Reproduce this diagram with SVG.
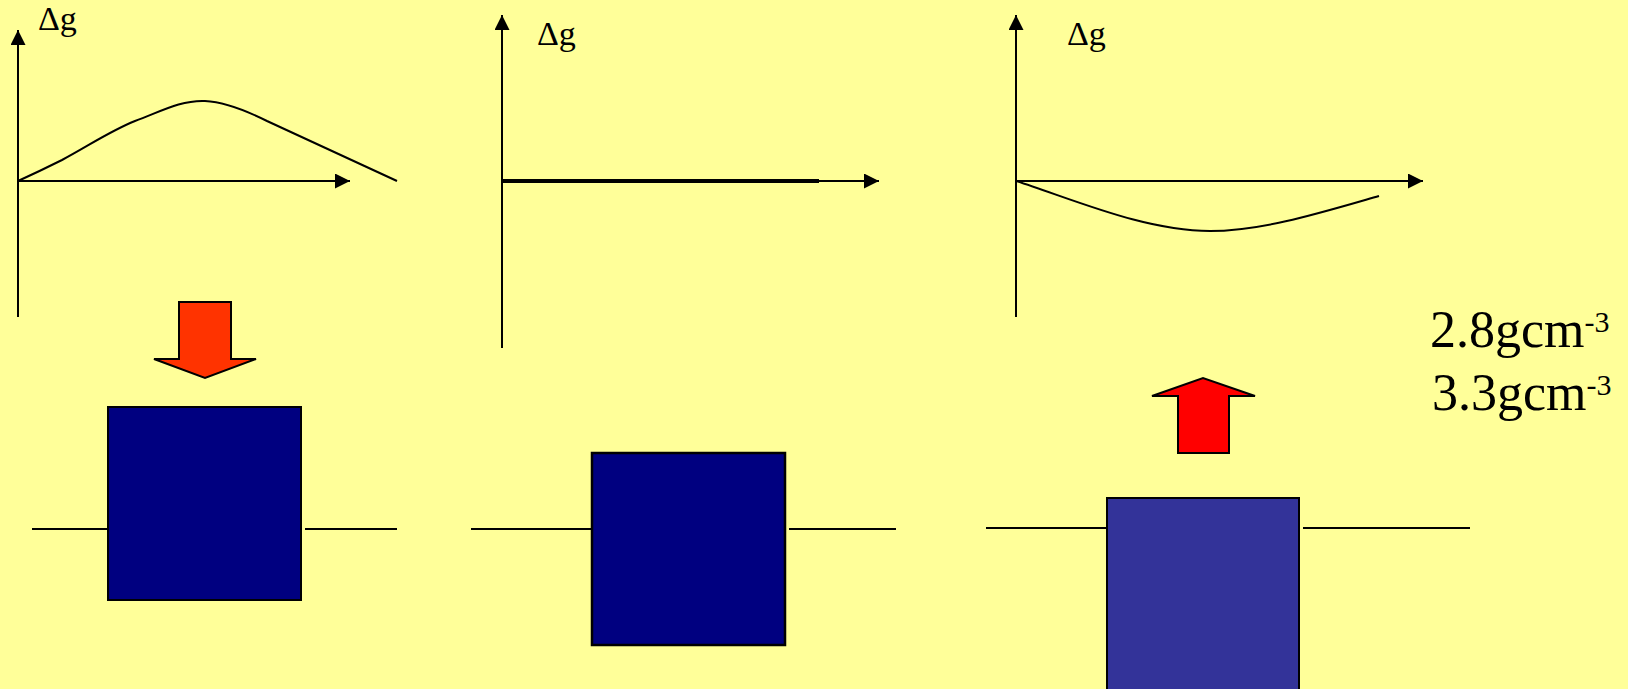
<svg xmlns="http://www.w3.org/2000/svg" width="1628" height="689" viewBox="0 0 1628 689">
<defs>
<marker id="ah" markerUnits="userSpaceOnUse" markerWidth="16" markerHeight="16" refX="15" refY="7.5" orient="auto">
<path d="M0,0 L15,7.5 L0,15 z" fill="#000"/>
</marker>
<style>
.axis{stroke:#000;stroke-width:2;fill:none}
.curve{stroke:#000;stroke-width:2;fill:none}
.base{stroke:#000;stroke-width:2}
.lbl{font-family:"Liberation Serif","Times New Roman",serif;font-size:34px;fill:#000}
.den{font-family:"Liberation Serif","Times New Roman",serif;font-size:52px;fill:#000}
.sup{font-size:30px}
.blk{stroke:#000;stroke-width:2}
</style>
</defs>
<rect width="1628" height="689" fill="#FFFF99"/>

<g id="panel1">
<line class="axis" x1="18" y1="317" x2="18" y2="30" marker-end="url(#ah)"/>
<line class="axis" x1="18" y1="181" x2="350" y2="181" marker-end="url(#ah)"/>
<text class="lbl" x="38" y="30">Δg</text>
<path class="curve" d="M18,181 Q40,171 62,160 C90,145 110,131 135,121 C160,112 180,100 205,101 C225,102 245,110 267,121 L397,181"/>
<polygon class="blk" fill="#FF3300" points="179,302 231,302 231,359 256,359 205,378 154,359 179,359"/>
<line class="base" x1="32" y1="529" x2="108" y2="529"/>
<line class="base" x1="305" y1="529" x2="397" y2="529"/>
<rect class="blk" x="108" y="407" width="193" height="193" fill="#000080"/>
</g>

<g id="panel2">
<line class="axis" x1="502" y1="348" x2="502" y2="15" marker-end="url(#ah)"/>
<line class="axis" x1="502" y1="181" x2="879" y2="181" marker-end="url(#ah)"/>
<line stroke="#000" stroke-width="4" x1="502" y1="181" x2="819" y2="181"/>
<text class="lbl" x="537" y="45">Δg</text>
<line class="base" x1="471" y1="529" x2="592" y2="529"/>
<line class="base" x1="789" y1="529" x2="896" y2="529"/>
<rect x="592" y="453" width="193" height="192" fill="#000080" stroke="#000" stroke-width="2.5"/>
</g>

<g id="panel3">
<line class="axis" x1="1016" y1="317" x2="1016" y2="15" marker-end="url(#ah)"/>
<line class="axis" x1="1016" y1="181" x2="1423" y2="181" marker-end="url(#ah)"/>
<text class="lbl" x="1067" y="45">Δg</text>
<path class="curve" d="M1016,181 C1075,200 1145,231 1210,231 C1262,231 1320,213 1379,196"/>
<polygon class="blk" fill="#FF0000" points="1178,453 1229,453 1229,396 1255,396 1203,378 1152,396 1178,396"/>
<line class="base" x1="986" y1="528" x2="1107" y2="528"/>
<line class="base" x1="1303" y1="528" x2="1470" y2="528"/>
<rect class="blk" x="1107" y="498" width="192" height="200" fill="#333399"/>
</g>

<g id="densities">
<text class="den" x="1430" y="347">2.8gcm<tspan class="sup" dy="-15">-3</tspan></text>
<text class="den" x="1432" y="410">3.3gcm<tspan class="sup" dy="-15">-3</tspan></text>
</g>
</svg>
